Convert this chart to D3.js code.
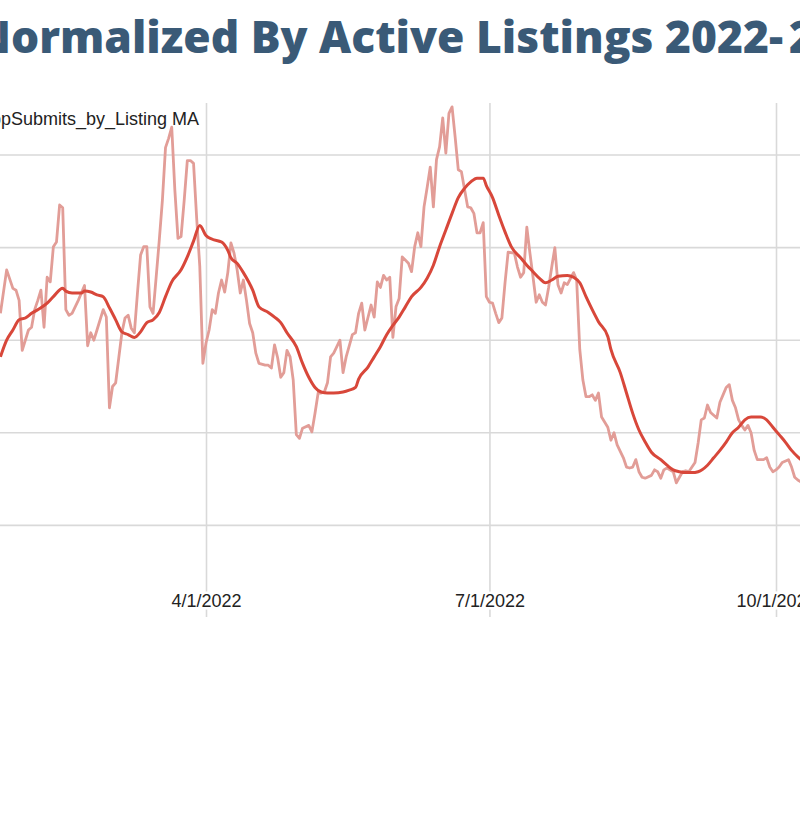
<!DOCTYPE html>
<html>
<head>
<meta charset="utf-8">
<script src="https://cdn.jsdelivr.net/npm/d3@7"></script>
<style>
  html, body { margin: 0; padding: 0; background: #fff; }
  svg { display: block; }
</style>
</head>
<body>
<svg id="chart" width="800" height="816"></svg>
<script>
const titleParts = ["Normalized By Active Listings 2022-", "2023"];
const legendLabel = "AppSubmits_by_Listing MA";
const xTickDates = ["2022-04-01", "2022-07-01", "2022-10-01"];
const xTickLabels = ["4/1/2022", "7/1/2022", "10/1/2022"];
const yTicks = [0.1, 0.2, 0.3, 0.4, 0.5];

// daily AppSubmits_by_Listing
const rawSeries = [
  ["2022-01-25", 0.329], ["2022-01-27", 0.376], ["2022-01-29", 0.356], ["2022-01-30", 0.354],
  ["2022-01-31", 0.343], ["2022-02-01", 0.289], ["2022-02-03", 0.311], ["2022-02-04", 0.314],
  ["2022-02-05", 0.333], ["2022-02-06", 0.343], ["2022-02-07", 0.354], ["2022-02-08", 0.314],
  ["2022-02-09", 0.368], ["2022-02-10", 0.363], ["2022-02-11", 0.401], ["2022-02-12", 0.406],
  ["2022-02-13", 0.446], ["2022-02-14", 0.443], ["2022-02-15", 0.333], ["2022-02-16", 0.327],
  ["2022-02-17", 0.329], ["2022-02-19", 0.343], ["2022-02-21", 0.359], ["2022-02-22", 0.294],
  ["2022-02-23", 0.308], ["2022-02-24", 0.300], ["2022-02-25", 0.311], ["2022-02-27", 0.333],
  ["2022-02-28", 0.325], ["2022-03-01", 0.227], ["2022-03-02", 0.250], ["2022-03-03", 0.254],
  ["2022-03-04", 0.281], ["2022-03-05", 0.308], ["2022-03-06", 0.324], ["2022-03-07", 0.327],
  ["2022-03-08", 0.313], ["2022-03-09", 0.308], ["2022-03-10", 0.351], ["2022-03-11", 0.392],
  ["2022-03-12", 0.401], ["2022-03-13", 0.401], ["2022-03-14", 0.336], ["2022-03-15", 0.329],
  ["2022-03-16", 0.368], ["2022-03-17", 0.408], ["2022-03-18", 0.451], ["2022-03-19", 0.508],
  ["2022-03-20", 0.518], ["2022-03-21", 0.530], ["2022-03-22", 0.462], ["2022-03-23", 0.410],
  ["2022-03-24", 0.412], ["2022-03-25", 0.451], ["2022-03-26", 0.494], ["2022-03-27", 0.494],
  ["2022-03-28", 0.491], ["2022-03-29", 0.432], ["2022-03-30", 0.380], ["2022-03-31", 0.275],
  ["2022-04-01", 0.297], ["2022-04-02", 0.311], ["2022-04-03", 0.333], ["2022-04-04", 0.329],
  ["2022-04-05", 0.351], ["2022-04-06", 0.365], ["2022-04-07", 0.352], ["2022-04-08", 0.373],
  ["2022-04-09", 0.405], ["2022-04-10", 0.394], ["2022-04-11", 0.376], ["2022-04-12", 0.351],
  ["2022-04-13", 0.365], ["2022-04-14", 0.343], ["2022-04-15", 0.318], ["2022-04-16", 0.308],
  ["2022-04-17", 0.286], ["2022-04-18", 0.275], ["2022-04-20", 0.273], ["2022-04-21", 0.273],
  ["2022-04-22", 0.270], ["2022-04-23", 0.295], ["2022-04-24", 0.281], ["2022-04-25", 0.260],
  ["2022-04-26", 0.265], ["2022-04-27", 0.289], ["2022-04-28", 0.282], ["2022-04-29", 0.257],
  ["2022-04-30", 0.198], ["2022-05-01", 0.194], ["2022-05-02", 0.205], ["2022-05-04", 0.208],
  ["2022-05-05", 0.201], ["2022-05-06", 0.221], ["2022-05-07", 0.243], ["2022-05-08", 0.243],
  ["2022-05-09", 0.244], ["2022-05-10", 0.254], ["2022-05-11", 0.282], ["2022-05-12", 0.286],
  ["2022-05-14", 0.300], ["2022-05-15", 0.265], ["2022-05-16", 0.282], ["2022-05-18", 0.306],
  ["2022-05-19", 0.308], ["2022-05-20", 0.329], ["2022-05-21", 0.340], ["2022-05-22", 0.311],
  ["2022-05-24", 0.338], ["2022-05-25", 0.325], ["2022-05-26", 0.363], ["2022-05-27", 0.357],
  ["2022-05-28", 0.370], ["2022-05-29", 0.365], ["2022-05-30", 0.368], ["2022-05-31", 0.303],
  ["2022-06-01", 0.336], ["2022-06-02", 0.345], ["2022-06-03", 0.390], ["2022-06-05", 0.383],
  ["2022-06-06", 0.374], ["2022-06-07", 0.401], ["2022-06-08", 0.416], ["2022-06-09", 0.401],
  ["2022-06-10", 0.444], ["2022-06-11", 0.465], ["2022-06-12", 0.487], ["2022-06-13", 0.444],
  ["2022-06-14", 0.495], ["2022-06-15", 0.509], ["2022-06-16", 0.540], ["2022-06-17", 0.502],
  ["2022-06-18", 0.545], ["2022-06-19", 0.552], ["2022-06-20", 0.519], ["2022-06-21", 0.484],
  ["2022-06-22", 0.482], ["2022-06-24", 0.444], ["2022-06-25", 0.443], ["2022-06-26", 0.437],
  ["2022-06-27", 0.416], ["2022-06-28", 0.416], ["2022-06-29", 0.427], ["2022-06-30", 0.347],
  ["2022-07-01", 0.341], ["2022-07-02", 0.340], ["2022-07-03", 0.329], ["2022-07-04", 0.319],
  ["2022-07-05", 0.324], ["2022-07-06", 0.362], ["2022-07-07", 0.395], ["2022-07-09", 0.394],
  ["2022-07-10", 0.379], ["2022-07-11", 0.368], ["2022-07-12", 0.373], ["2022-07-13", 0.422],
  ["2022-07-14", 0.394], ["2022-07-15", 0.368], ["2022-07-16", 0.341], ["2022-07-17", 0.349],
  ["2022-07-18", 0.341], ["2022-07-19", 0.338], ["2022-07-20", 0.357], ["2022-07-21", 0.379],
  ["2022-07-22", 0.400], ["2022-07-23", 0.360], ["2022-07-24", 0.351], ["2022-07-25", 0.362],
  ["2022-07-26", 0.360], ["2022-07-28", 0.373], ["2022-07-29", 0.365], ["2022-07-30", 0.290],
  ["2022-07-31", 0.257], ["2022-08-01", 0.239], ["2022-08-02", 0.239], ["2022-08-03", 0.241],
  ["2022-08-04", 0.235], ["2022-08-05", 0.243], ["2022-08-06", 0.217], ["2022-08-08", 0.206],
  ["2022-08-09", 0.192], ["2022-08-10", 0.200], ["2022-08-11", 0.187], ["2022-08-13", 0.173],
  ["2022-08-14", 0.163], ["2022-08-15", 0.162], ["2022-08-16", 0.163], ["2022-08-17", 0.171],
  ["2022-08-18", 0.158], ["2022-08-19", 0.152], ["2022-08-20", 0.151], ["2022-08-22", 0.154],
  ["2022-08-23", 0.160], ["2022-08-24", 0.158], ["2022-08-25", 0.151], ["2022-08-26", 0.160],
  ["2022-08-27", 0.162], ["2022-08-29", 0.158], ["2022-08-30", 0.146], ["2022-08-31", 0.152],
  ["2022-09-01", 0.158], ["2022-09-02", 0.159], ["2022-09-03", 0.158], ["2022-09-05", 0.168],
  ["2022-09-06", 0.189], ["2022-09-07", 0.214], ["2022-09-08", 0.216], ["2022-09-09", 0.230],
  ["2022-09-10", 0.222], ["2022-09-12", 0.216], ["2022-09-13", 0.233], ["2022-09-14", 0.241],
  ["2022-09-15", 0.249], ["2022-09-16", 0.252], ["2022-09-17", 0.235], ["2022-09-18", 0.227],
  ["2022-09-19", 0.214], ["2022-09-20", 0.208], ["2022-09-21", 0.203], ["2022-09-22", 0.208],
  ["2022-09-23", 0.200], ["2022-09-24", 0.181], ["2022-09-25", 0.171], ["2022-09-27", 0.171],
  ["2022-09-28", 0.173], ["2022-09-29", 0.163], ["2022-09-30", 0.158], ["2022-10-01", 0.160],
  ["2022-10-02", 0.163], ["2022-10-03", 0.168], ["2022-10-05", 0.171], ["2022-10-06", 0.163],
  ["2022-10-07", 0.152], ["2022-10-08", 0.149], ["2022-10-09", 0.147]
];

// moving average
const maSeries = [
  ["2022-01-25", 0.282], ["2022-01-27", 0.300], ["2022-01-29", 0.311], ["2022-01-31", 0.322],
  ["2022-02-02", 0.324], ["2022-02-04", 0.329], ["2022-02-07", 0.335], ["2022-02-09", 0.340],
  ["2022-02-11", 0.347], ["2022-02-14", 0.356], ["2022-02-15", 0.353], ["2022-02-17", 0.351],
  ["2022-02-20", 0.351], ["2022-02-21", 0.353], ["2022-02-23", 0.352], ["2022-02-25", 0.349],
  ["2022-02-27", 0.347], ["2022-03-01", 0.335], ["2022-03-03", 0.322], ["2022-03-05", 0.309],
  ["2022-03-07", 0.306], ["2022-03-09", 0.303], ["2022-03-11", 0.309], ["2022-03-13", 0.319],
  ["2022-03-15", 0.322], ["2022-03-17", 0.330], ["2022-03-19", 0.347], ["2022-03-21", 0.363],
  ["2022-03-24", 0.376], ["2022-03-26", 0.390], ["2022-03-28", 0.407], ["2022-03-30", 0.424],
  ["2022-04-01", 0.413], ["2022-04-03", 0.409], ["2022-04-06", 0.406],
  ["2022-04-08", 0.397], ["2022-04-09", 0.389], ["2022-04-11", 0.383], ["2022-04-13", 0.373],
  ["2022-04-16", 0.354], ["2022-04-18", 0.336], ["2022-04-21", 0.330], ["2022-04-23", 0.325],
  ["2022-04-25", 0.319], ["2022-04-27", 0.308], ["2022-04-30", 0.293], ["2022-05-02", 0.275],
  ["2022-05-04", 0.260], ["2022-05-06", 0.249], ["2022-05-08", 0.244], ["2022-05-10", 0.243],
  ["2022-05-12", 0.243], ["2022-05-15", 0.244], ["2022-05-17", 0.246], ["2022-05-19", 0.249],
  ["2022-05-20", 0.258], ["2022-05-23", 0.271], ["2022-05-25", 0.282], ["2022-05-27", 0.293],
  ["2022-05-29", 0.306], ["2022-05-31", 0.316], ["2022-06-02", 0.325], ["2022-06-04", 0.336],
  ["2022-06-06", 0.347], ["2022-06-09", 0.357], ["2022-06-11", 0.367], ["2022-06-13", 0.381],
  ["2022-06-15", 0.401], ["2022-06-17", 0.419], ["2022-06-19", 0.437], ["2022-06-21", 0.454],
  ["2022-06-23", 0.464], ["2022-06-25", 0.471], ["2022-06-27", 0.475], ["2022-06-29", 0.475],
  ["2022-06-30", 0.467], ["2022-07-02", 0.454], ["2022-07-04", 0.435], ["2022-07-06", 0.417],
  ["2022-07-08", 0.401], ["2022-07-11", 0.389], ["2022-07-13", 0.381], ["2022-07-15", 0.374],
  ["2022-07-17", 0.367], ["2022-07-19", 0.362], ["2022-07-21", 0.365], ["2022-07-23", 0.369],
  ["2022-07-26", 0.370], ["2022-07-28", 0.368], ["2022-07-30", 0.362], ["2022-08-01", 0.347],
  ["2022-08-03", 0.333], ["2022-08-05", 0.320], ["2022-08-08", 0.304], ["2022-08-09", 0.290],
  ["2022-08-12", 0.265], ["2022-08-14", 0.243], ["2022-08-16", 0.221], ["2022-08-18", 0.203],
  ["2022-08-20", 0.190], ["2022-08-22", 0.179], ["2022-08-25", 0.171], ["2022-08-27", 0.165],
  ["2022-08-29", 0.160], ["2022-08-31", 0.158], ["2022-09-02", 0.157], ["2022-09-04", 0.157],
  ["2022-09-06", 0.158], ["2022-09-09", 0.165], ["2022-09-11", 0.173], ["2022-09-13", 0.181],
  ["2022-09-15", 0.190], ["2022-09-17", 0.200], ["2022-09-19", 0.206], ["2022-09-21", 0.214],
  ["2022-09-23", 0.217], ["2022-09-26", 0.217], ["2022-09-28", 0.214], ["2022-09-30", 0.206],
  ["2022-10-02", 0.198], ["2022-10-04", 0.190], ["2022-10-06", 0.181], ["2022-10-08", 0.174],
  ["2022-10-09", 0.171]
];

(() => {
  const width = 800;
  const height = 816;
  const plotTop = 103;
  const plotBottom = 617;

  const parseDate = d3.utcParse("%Y-%m-%d");
  const svg = d3.select("#chart");

  svg.append("rect").attr("width", width).attr("height", height).attr("fill", "#fff");

  const x = d3
    .scaleUtc()
    .domain([parseDate("2022-04-01"), parseDate("2022-10-01")])
    .range([206, 776]);

  const y = d3.scaleLinear().domain([0, 0.5]).range([618, 155]);

  // horizontal gridlines
  svg
    .append("g")
    .selectAll("line")
    .data(yTicks)
    .join("line")
    .attr("x1", 0)
    .attr("x2", width)
    .attr("y1", (d) => y(d))
    .attr("y2", (d) => y(d))
    .attr("stroke", "#d9d9d9")
    .attr("stroke-width", 1.6);

  // vertical gridlines + date labels
  const xAxis = d3
    .axisBottom(x)
    .tickValues(xTickDates.map(parseDate))
    .tickFormat((d, i) => xTickLabels[i])
    .tickSizeInner(-(plotBottom - plotTop))
    .tickSizeOuter(0);

  const gx = svg
    .append("g")
    .attr("transform", `translate(0,${plotBottom})`)
    .call(xAxis);

  gx.select(".domain").remove();
  gx.selectAll(".tick line").attr("stroke", "#d9d9d9").attr("stroke-width", 1.6);
  gx.selectAll(".tick text")
    .attr("y", -10)
    .attr("dy", 0)
    .attr("fill", "#222")
    .attr("font-family", "'Liberation Sans', Arial, sans-serif")
    .attr("font-size", 18)
    .attr("stroke", "#fff")
    .attr("stroke-width", 5)
    .attr("paint-order", "stroke");

  const line = d3
    .line()
    .x((d) => x(parseDate(d[0])))
    .y((d) => y(d[1]));

  svg
    .append("path")
    .datum(rawSeries)
    .attr("fill", "none")
    .attr("stroke", "#e29d97")
    .attr("stroke-width", 2.8)
    .attr("stroke-linejoin", "round")
    .attr("d", line);

  svg
    .append("path")
    .datum(maSeries)
    .attr("fill", "none")
    .attr("stroke", "#d8473a")
    .attr("stroke-width", 3)
    .attr("stroke-linejoin", "round")
    .attr("d", line.curve(d3.curveMonotoneX));

  // legend (cropped on the left like the source)
  svg
    .append("text")
    .attr("x", 199)
    .attr("y", 125)
    .attr("text-anchor", "end")
    .attr("fill", "#222")
    .attr("font-family", "'Liberation Sans', Arial, sans-serif")
    .attr("font-size", 18)
    .text(legendLabel);

  // title
  const titleFont = "'Open Sans', 'Noto Sans', sans-serif";
  svg
    .append("text")
    .attr("x", -26)
    .attr("y", 53)
    .attr("fill", "#3a5a77")
    .attr("font-family", titleFont)
    .attr("font-weight", 800)
    .attr("font-size", 45)
    .attr("textLength", 809)
    .attr("lengthAdjust", "spacingAndGlyphs")
    .text(titleParts[0]);

  svg
    .append("text")
    .attr("x", 789)
    .attr("y", 53)
    .attr("fill", "#3a5a77")
    .attr("font-family", titleFont)
    .attr("font-weight", 800)
    .attr("font-size", 45)
    .text(titleParts[1]);
})();
</script>
</body>
</html>
